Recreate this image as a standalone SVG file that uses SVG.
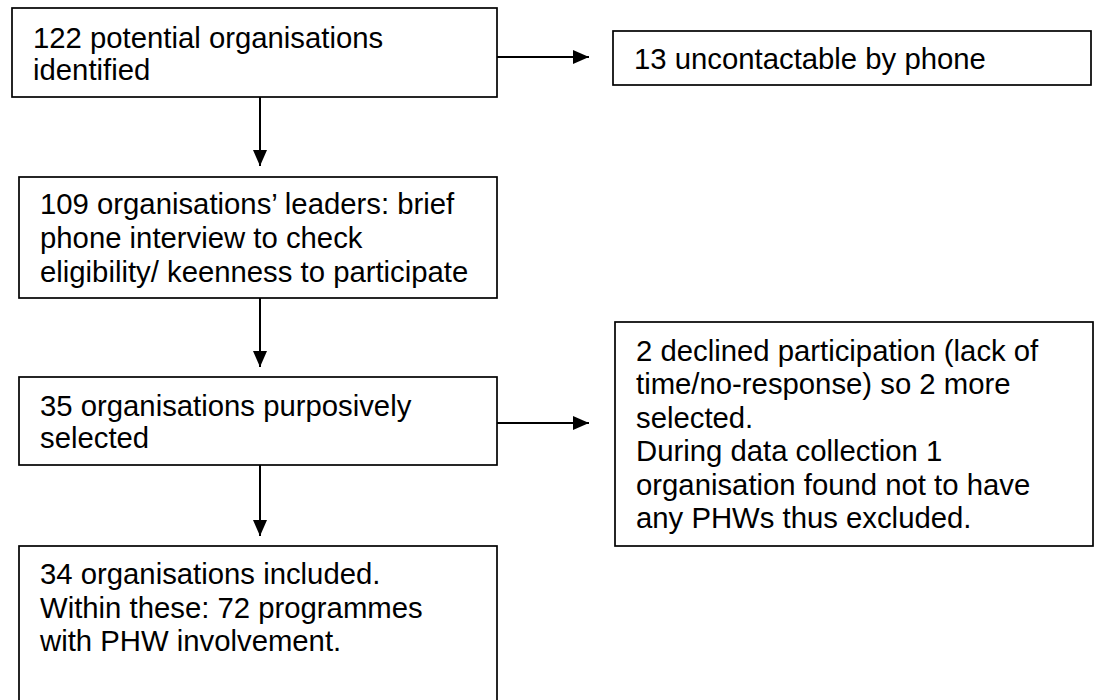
<svg xmlns="http://www.w3.org/2000/svg" width="1094" height="700" viewBox="0 0 1094 700">
<style>
.box{fill:#fff;stroke:#000;stroke-width:1.7}
.t{font-family:"Liberation Sans",Arial,sans-serif;font-size:29.3px;fill:#000}
.c{stroke:#000;stroke-width:2;fill:none}
</style>
<defs>
<marker id="ah" viewBox="0 0 16 14" refX="16" refY="7" markerWidth="16" markerHeight="14" markerUnits="userSpaceOnUse" orient="auto">
<path d="M0,0 L16,7 L0,14 Z" fill="#000"/>
</marker>
</defs>
<rect width="1094" height="700" fill="#fff"/>
<g id="connectors">
<line class="c" x1="497" y1="57" x2="589" y2="57" marker-end="url(#ah)"/>
<line class="c" x1="260" y1="97" x2="260" y2="166" marker-end="url(#ah)"/>
<line class="c" x1="260" y1="298" x2="260" y2="367" marker-end="url(#ah)"/>
<line class="c" x1="497" y1="423" x2="589" y2="423" marker-end="url(#ah)"/>
<line class="c" x1="260" y1="465" x2="260" y2="536" marker-end="url(#ah)"/>
</g>
<g id="n1">
<rect class="box" x="12" y="8" width="485" height="89"/>
<text class="t" x="33" y="48">122 potential organisations</text>
<text class="t" x="33" y="80">identified</text>
</g>
<g id="n2">
<rect class="box" x="613" y="31" width="478" height="54"/>
<text class="t" x="634" y="69">13 uncontactable by phone</text>
</g>
<g id="n3">
<rect class="box" x="19" y="177" width="478" height="121"/>
<text class="t" x="40" y="214">109 organisations’ leaders: brief</text>
<text class="t" x="40" y="248">phone interview to check</text>
<text class="t" x="40" y="282">eligibility/ keenness to participate</text>
</g>
<g id="n4">
<rect class="box" x="19" y="377" width="478" height="88"/>
<text class="t" x="40" y="416">35 organisations purposively</text>
<text class="t" x="40" y="448">selected</text>
</g>
<g id="n5">
<rect class="box" x="615" y="322" width="478" height="224"/>
<text class="t" x="636" y="361">2 declined participation (lack of</text>
<text class="t" x="636" y="394">time/no-response) so 2 more</text>
<text class="t" x="636" y="428">selected.</text>
<text class="t" x="636" y="461">During data collection 1</text>
<text class="t" x="636" y="495">organisation found not to have</text>
<text class="t" x="636" y="528">any PHWs thus excluded.</text>
</g>
<g id="n6">
<rect class="box" x="19" y="546" width="478" height="170"/>
<text class="t" x="40" y="584">34 organisations included.</text>
<text class="t" x="40" y="618">Within these: 72 programmes</text>
<text class="t" x="40" y="651">with PHW involvement.</text>
</g>
</svg>
